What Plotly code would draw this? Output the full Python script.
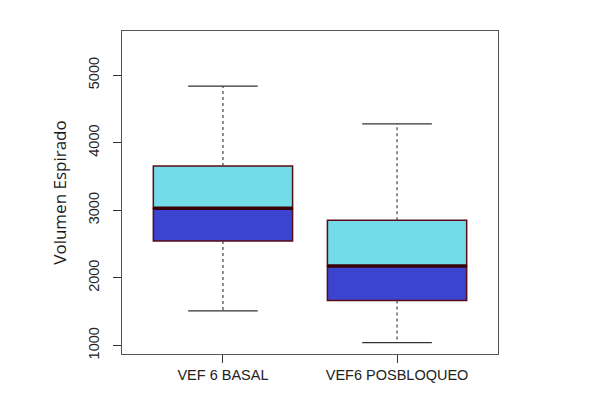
import plotly.graph_objects as go

# ---- data ----
categories = ["VEF 6 BASAL", "VEF6 POSBLOQUEO"]
lower_whisker = [1510, 1040]
q1 = [2545, 1665]
median = [3030, 2175]
q3 = [3655, 2855]
upper_whisker = [4840, 4280]
y_ticks = [1000, 2000, 3000, 4000, 5000]

positions = [1, 2]
BOX_W = 0.8
CAP_W = 0.4

CYAN = "#74DBE8"
BLUE = "#3A44CF"
OUTLINE = "#5a0c16"
MEDIAN_C = "#3a0006"
WHISK = "#444444"

fig = go.Figure()

# lower half of boxes (q1 -> median)
fig.add_trace(go.Bar(
    x=positions, base=q1, y=[m - a for m, a in zip(median, q1)],
    width=BOX_W, marker=dict(color=BLUE, line=dict(color=OUTLINE, width=1.5)),
    hoverinfo="skip", showlegend=False))
# upper half of boxes (median -> q3)
fig.add_trace(go.Bar(
    x=positions, base=median, y=[b - m for b, m in zip(q3, median)],
    width=BOX_W, marker=dict(color=CYAN, line=dict(color=OUTLINE, width=1.5)),
    hoverinfo="skip", showlegend=False))

# whiskers (dashed)
wx, wy = [], []
for p, lo, a, b, hi in zip(positions, lower_whisker, q1, q3, upper_whisker):
    wx += [p, p, None, p, p, None]
    wy += [b, hi, None, a, lo, None]
fig.add_trace(go.Scatter(x=wx, y=wy, mode="lines",
                         line=dict(color=WHISK, width=1.2, dash="3px,3px"),
                         hoverinfo="skip", showlegend=False))
# caps
cx, cy = [], []
for p, lo, hi in zip(positions, lower_whisker, upper_whisker):
    cx += [p - CAP_W / 2, p + CAP_W / 2, None, p - CAP_W / 2, p + CAP_W / 2, None]
    cy += [hi, hi, None, lo, lo, None]
fig.add_trace(go.Scatter(x=cx, y=cy, mode="lines",
                         line=dict(color="#333333", width=1.2),
                         hoverinfo="skip", showlegend=False))
# medians
mx, my = [], []
for p, m in zip(positions, median):
    mx += [p - BOX_W / 2, p + BOX_W / 2, None]
    my += [m, m, None]
fig.add_trace(go.Scatter(x=mx, y=my, mode="lines",
                         line=dict(color=MEDIAN_C, width=3.5),
                         hoverinfo="skip", showlegend=False))

fig.update_layout(
    width=600, height=398,
    margin=dict(l=114, r=110, t=23, b=52),
    paper_bgcolor="white", plot_bgcolor="white",
    barmode="overlay",
    font=dict(family="Liberation Sans, Arial, sans-serif", color="#222222"),
    xaxis=dict(
        range=[0.42, 2.58], tickmode="array", tickvals=positions, ticktext=categories,
        ticks="outside", ticklen=8, tickcolor="#333333", tickwidth=1,
        showgrid=False, zeroline=False, automargin=False,
        showline=True, mirror=True, linecolor="#555555", linewidth=1,
        tickfont=dict(size=14.5, color="#222222"),
    ),
    yaxis=dict(
        range=[873, 5655], tickmode="array", tickvals=y_ticks,
        ticks="outside", ticklen=8, tickcolor="#333333", tickwidth=1,
        tickangle=-90, ticklabelstandoff=8,
        showgrid=False, zeroline=False, automargin=False,
        showline=True, mirror=True, linecolor="#555555", linewidth=1,
        tickfont=dict(size=14.5, color="#222222"),
        title=dict(text="Volumen Espirado", standoff=15,
                   font=dict(family="Open Sans, sans-serif", size=17, color="#1a1a1a")),
    ),
)

fig.write_html("out.html")
